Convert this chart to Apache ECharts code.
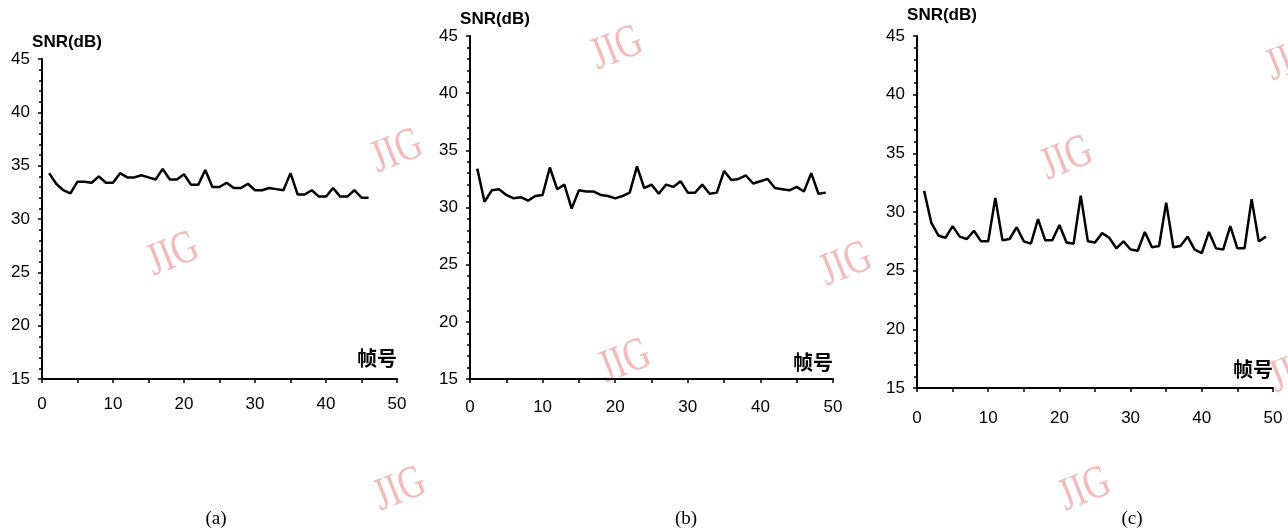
<!DOCTYPE html>
<html>
<head>
<meta charset="utf-8">
<script src="https://cdn.jsdelivr.net/npm/echarts@6/dist/echarts.min.js"></script>
<style>
html, body { margin: 0; padding: 0; background: #fff; }
#chart { width: 1288px; height: 530px; }
</style>
</head>
<body>
<div id="chart"></div>
<script>
// SNR per frame
var snrA = [34.3, 33.3, 32.7, 32.4, 33.5, 33.5, 33.4, 34.0, 33.4, 33.4,
  34.3, 33.9, 33.9, 34.1, 33.9, 33.7, 34.7, 33.7, 33.7, 34.2,
  33.2, 33.2, 34.6, 33.0, 33.0, 33.4, 32.9, 32.9, 33.3, 32.7,
  32.7, 32.9, 32.8, 32.7, 34.3, 32.3, 32.3, 32.7, 32.1, 32.1,
  32.9, 32.1, 32.1, 32.7, 32.0, 32.0];
var snrB = [33.4, 30.5, 31.5, 31.6, 31.1, 30.8, 30.9, 30.6, 31.0, 31.1,
  33.5, 31.6, 32.0, 29.9, 31.5, 31.4, 31.4, 31.1, 31.0, 30.8,
  31.0, 31.3, 33.6, 31.7, 32.0, 31.2, 32.0, 31.8, 32.3, 31.3,
  31.3, 32.0, 31.2, 31.3, 33.2, 32.4, 32.5, 32.8, 32.1, 32.3,
  32.5, 31.7, 31.6, 31.5, 31.8, 31.4, 33.0, 31.2, 31.3];
var snrC = [31.8, 29.1, 28.0, 27.8, 28.8, 27.9, 27.7, 28.4, 27.5, 27.5,
  31.2, 27.6, 27.7, 28.7, 27.5, 27.3, 29.4, 27.6, 27.6, 28.9,
  27.4, 27.3, 31.4, 27.5, 27.4, 28.2, 27.8, 26.9, 27.5, 26.8,
  26.7, 28.3, 27.0, 27.1, 30.8, 27.0, 27.1, 27.9, 26.8, 26.5,
  28.3, 26.9, 26.8, 28.8, 26.9, 26.9, 31.1, 27.5, 27.9];
var panelLabels = ['(a)', '(b)', '(c)'];
var yName = 'SNR(dB)';
var xName = '帧号';

var chart = echarts.init(document.getElementById('chart'));

function toPoints(arr) {
  return arr.map(function (v, i) { return [i + 1, v]; });
}

var grids = [
  { left: 42, top: 59, width: 355, height: 320 },
  { left: 470, top: 36, width: 363, height: 343 },
  { left: 917, top: 36, width: 356, height: 352 }
];
var xLabelMargin = [17, 20, 22];
var yNameGap = [8, 6, 12];
var xNameUp = [11, 7, 9];

var axisLine = { lineStyle: { color: '#000', width: 2 } };
var labelFont = { color: '#000', fontSize: 17, fontFamily: 'Liberation Sans, Arial, sans-serif' };

var xAxes = [], yAxes = [], series = [];
[snrA, snrB, snrC].forEach(function (arr, i) {
  xAxes.push({
    type: 'value', gridIndex: i, min: 0, max: 50, interval: 5,
    axisLine: axisLine,
    axisTick: { length: 4, lineStyle: { color: '#000', width: 1.5 } },
    splitLine: { show: false },
    axisLabel: Object.assign({
      margin: xLabelMargin[i],
      formatter: function (v) { return v % 10 === 0 ? String(v) : ''; }
    }, labelFont),
    name: xName,
    nameLocation: 'end',
    nameGap: 0,
    nameTextStyle: {
      color: '#000', fontSize: 20, fontWeight: 'bold',
      fontFamily: 'Noto Sans CJK SC', align: 'right', verticalAlign: 'bottom',
      padding: [0, 0, xNameUp[i], 0]
    }
  });
  yAxes.push({
    type: 'value', gridIndex: i, min: 15, max: 45, interval: 5,
    axisLine: Object.assign({ show: true }, axisLine),
    axisTick: { length: 4, lineStyle: { color: '#000', width: 1.5 } },
    minorTick: { show: true, splitNumber: 5, length: 3, lineStyle: { color: '#000', width: 1.5 } },
    splitLine: { show: false },
    axisLabel: Object.assign({ margin: 12 }, labelFont),
    name: yName,
    nameLocation: 'end',
    nameGap: yNameGap[i],
    nameTextStyle: {
      color: '#000', fontSize: 17, fontWeight: 'bold',
      fontFamily: 'Liberation Sans, Arial, sans-serif',
      align: 'center', verticalAlign: 'bottom',
      padding: [0, 0, 0, 50]
    }
  });
  series.push({
    type: 'line', xAxisIndex: i, yAxisIndex: i,
    data: toPoints(arr),
    showSymbol: false,
    lineStyle: { color: '#000', width: 2.5 },
    z: 3
  });
});

// caption and JIG watermark texts
var captionX = [216, 686, 1132];
var graphics = panelLabels.map(function (t, i) {
  return {
    type: 'text', x: captionX[i], y: 519,
    style: {
      text: t, fill: '#000', align: 'center', verticalAlign: 'middle',
      font: '19px "Liberation Serif", serif'
    }
  };
});
var marks = [[397, 152], [173, 255], [617, 49], [846, 265], [625, 362],
  [1067, 159], [1292, 60], [400, 490], [1085, 490], [1295, 372]];
marks.forEach(function (p) {
  graphics.push({
    type: 'text', x: p[0], y: p[1], rotation: 0.38, scaleX: 0.85, scaleY: 1.1, z: 0,
    style: {
      text: 'JIG', fill: '#f6b9b9', align: 'center', verticalAlign: 'middle',
      font: '42px "Liberation Serif", serif'
    }
  });
});

chart.setOption({
  backgroundColor: '#fff',
  animation: false,
  grid: grids,
  xAxis: xAxes,
  yAxis: yAxes,
  series: series,
  graphic: graphics
});
</script>
</body>
</html>
